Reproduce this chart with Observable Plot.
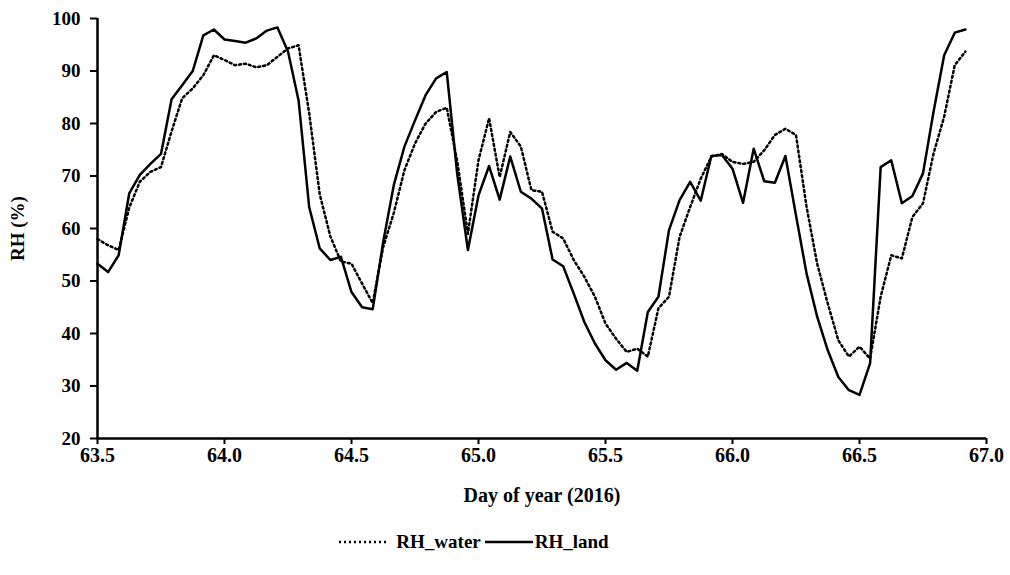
<!DOCTYPE html>
<html>
<head>
<meta charset="utf-8">
<script src="https://cdn.jsdelivr.net/npm/d3@7"></script>
<script src="https://cdn.jsdelivr.net/npm/@observablehq/plot@0.6"></script>
<style>
  body { margin: 0; background: #fff; font-family: "Liberation Serif", "Times New Roman", serif; }
  #chart svg { display: block; }
  #legend { display: flex; justify-content: center; align-items: center; height: 46px; padding-top: 4px; font-weight: bold; font-size: 19px; color: #000; margin-left: -62px; }
  #legend .item { display: flex; align-items: center; }
  #legend svg { margin-right: 6px; }
</style>
</head>
<body>
<div id="chart"></div>
<div id="legend"></div>
<script>
const startDay = 63.5;
const stepHours = 1;
const rhWater = [58.0,56.8,55.9,64.0,68.9,70.8,71.7,78.5,84.8,86.7,89.2,93.0,92.1,91.1,91.4,90.7,91.1,92.7,94.3,94.9,
  82.0,66.5,58.5,53.7,53.3,49.5,45.8,56.5,63.0,71.1,76.2,80.0,82.2,83.0,72.7,59.0,73.0,81.0,69.8,78.4,
  75.6,67.3,67.0,59.4,58.1,54.0,50.8,47.0,41.9,39.0,36.5,37.1,35.6,44.8,47.0,58.4,64.1,69.5,73.7,74.2,
  72.7,72.3,72.7,74.9,77.8,79.0,77.8,64.1,53.3,45.7,38.7,35.6,37.5,35.2,47.0,54.9,54.3,62.2,64.8,74.3,
  81.3,91.1,93.7];
const rhLand = [53.3,51.7,54.9,66.7,70.2,72.3,74.2,84.6,87.3,90.0,96.8,97.9,96.0,95.7,95.4,96.2,97.7,98.3,93.7,84.4,
  64.1,56.2,54.0,54.6,47.9,45.0,44.6,57.5,68.3,75.6,80.6,85.4,88.6,89.8,70.2,55.9,66.3,71.9,65.5,73.7,
  67.0,65.7,63.8,54.1,52.8,47.6,42.2,38.1,34.9,33.1,34.4,32.9,44.1,47.0,59.7,65.4,68.9,65.3,73.8,74.0,
  71.4,64.9,75.2,69.0,68.7,73.8,62.5,51.4,43.2,36.8,31.7,29.2,28.3,34.3,71.7,73.0,64.8,66.2,70.5,82.3,
  93.0,97.3,97.9];
const xTicks = [63.5,64.0,64.5,65.0,65.5,66.0,66.5,67.0];
const yTicks = [20,30,40,50,60,70,80,90,100];
const seriesNames = ["RH_water","RH_land"];

const days = rhLand.map((_, i) => startDay + i * stepHours / 24);
const water = rhWater.map((v, i) => ({day: days[i], rh: v}));
const land = rhLand.map((v, i) => ({day: days[i], rh: v}));

const plot = Plot.plot({
  width: 1010,
  height: 515,
  marginLeft: 97,
  marginRight: 24,
  marginTop: 18,
  marginBottom: 77,
  style: {fontFamily: "'Liberation Serif','Times New Roman',serif", fontSize: "20px", fontWeight: "bold", color: "#000", background: "#fff"},
  x: {domain: [63.5, 67.0]},
  y: {domain: [20, 100]},
  marks: [
    Plot.axisX({ticks: xTicks, tickFormat: d3.format(".1f"), tickSize: 6, tickPadding: 3, strokeWidth: 2,
      label: "Day of year (2016)", labelAnchor: "center", labelArrow: false, labelOffset: 63, fontSize: 20, fontWeight: "bold"}),
    Plot.axisY({ticks: yTicks, tickSize: 7, tickPadding: 10, strokeWidth: 2,
      label: "RH (%)", labelAnchor: "center", labelArrow: false, labelOffset: 87, fontSize: 19, fontWeight: "bold"}),
    Plot.ruleY([20], {stroke: "#000", strokeWidth: 2.5}),
    Plot.ruleX([63.5], {stroke: "#000", strokeWidth: 2.5}),
    Plot.lineY(water, {x: "day", y: "rh", stroke: "#000", strokeWidth: 2.5, strokeDasharray: "2,3"}),
    Plot.lineY(land, {x: "day", y: "rh", stroke: "#000", strokeWidth: 2.5})
  ]
});
document.getElementById("chart").appendChild(plot);

const legend = document.getElementById("legend");
seriesNames.forEach((name, k) => {
  const item = document.createElement("div");
  item.className = "item";
  const s = d3.create("svg").attr("width", 48).attr("height", 10).style("margin-right", k === 0 ? "9px" : "2px");
  s.append("line").attr("x1", 0).attr("x2", 48).attr("y1", 5).attr("y2", 5)
    .attr("stroke", "#000").attr("stroke-width", 2.5)
    .attr("stroke-dasharray", k === 0 ? "2,3" : null);
  item.appendChild(s.node());
  const t = document.createElement("span");
  t.textContent = name;
  t.style.marginRight = k === 0 ? "4px" : "0";
  item.appendChild(t);
  legend.appendChild(item);
});
</script>
</body>
</html>
